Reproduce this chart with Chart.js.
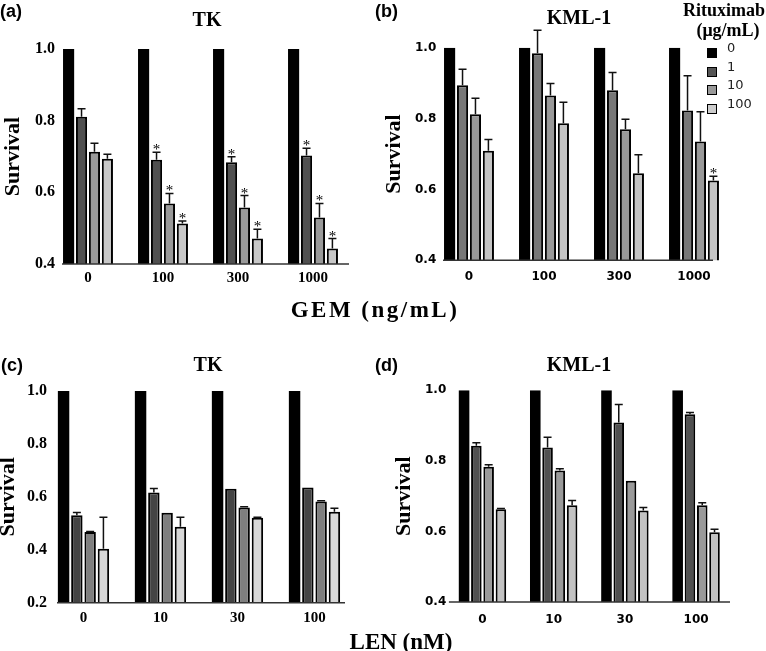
<!DOCTYPE html>
<html>
<head>
<meta charset="utf-8">
<script src="https://cdn.jsdelivr.net/npm/chart.js@4.4.0/dist/chart.umd.min.js"></script>
<style>
  body { margin: 0; background: #fff; }
  #page { position: relative; width: 766px; height: 651px; overflow: hidden; background: #fff; }
  canvas { position: absolute; }
  .t { position: absolute; white-space: nowrap; color: #000; line-height: 1; }
  .mid { transform: translate(-50%, -50%); }
  .serif { font-family: "Liberation Serif", "Times New Roman", serif; font-weight: bold; }
  .letter { font-family: "Liberation Sans", Arial, sans-serif; font-weight: bold; font-size: 18px; }
  .leg { position: absolute; left: 707px; font-family: "DejaVu Sans", sans-serif; font-size: 13px; color: #222; }
  .leg span.box { position: absolute; left: 0; width: 8px; height: 8px; border: 1.5px solid #000; }
  .leg span.lab { position: absolute; left: 20px; top: -8px; }
</style>
</head>
<body>
<div id="page">
  <canvas id="grafikA" width="380" height="300" style="left:0;top:0"></canvas>
  <canvas id="grafikB" width="386" height="300" style="left:380px;top:0"></canvas>
  <canvas id="grafikC" width="380" height="321" style="left:0;top:330px"></canvas>
  <canvas id="grafikD" width="386" height="321" style="left:380px;top:330px"></canvas>

  <div class="t letter" style="left:0;top:2px">(a)</div>
  <div class="t letter" style="left:375px;top:2px">(b)</div>
  <div class="t letter" style="left:1px;top:356px">(c)</div>
  <div class="t letter" style="left:375px;top:356px">(d)</div>

  <div class="t serif mid" style="left:207px;top:19px;font-size:20px">TK</div>
  <div class="t serif mid" style="left:579px;top:17px;font-size:20px">KML-1</div>
  <div class="t serif mid" style="left:208px;top:364px;font-size:20px">TK</div>
  <div class="t serif mid" style="left:579px;top:364px;font-size:20px">KML-1</div>

  <div class="t serif mid" style="left:375px;top:309px;font-size:23px;letter-spacing:2.5px">GEM (ng/mL)</div>
  <div class="t serif mid" style="left:401px;top:641px;font-size:23px">LEN (nM)</div>

  <div class="t serif mid" style="left:724px;top:10px;font-size:18px">Rituximab</div>
  <div class="t serif mid" style="left:728px;top:30px;font-size:18px">(μg/mL)</div>
  <div id="legenda"></div>
</div>

<script>
// Kategori sumbu x dan dosis rituximab
const gemLabels = ['0', '100', '300', '1000'];
const lenLabels = ['0', '10', '30', '100'];
const ritLabels = ['0', '1', '10', '100'];

// (a) TK + GEM : nilai survival per dosis rituximab (0, 1, 10, 100 ug/mL)
const tkGemR0 = [1, 1, 1, 1];
const tkGemR1 = [0.811, 0.691, 0.684, 0.703];
const tkGemR10 = [0.713, 0.569, 0.558, 0.530];
const tkGemR100 = [0.694, 0.513, 0.471, 0.443];
const tkGemErr1 = [0.022, 0.021, 0.015, 0.020];
const tkGemErr10 = [0.024, 0.028, 0.033, 0.039];
const tkGemErr100 = [0.012, 0.007, 0.026, 0.028];
const tkGemSig1 = [0, 1, 1, 1];
const tkGemSig10 = [0, 1, 1, 1];
const tkGemSig100 = [0, 1, 1, 1];

// (b) KML-1 + GEM
const kmlGemR0 = [1, 1, 1, 1];
const kmlGemR1 = [0.894, 0.984, 0.880, 0.823];
const kmlGemR10 = [0.812, 0.865, 0.770, 0.735];
const kmlGemR100 = [0.709, 0.787, 0.646, 0.625];
const kmlGemErr1 = [0.045, 0.065, 0.050, 0.098];
const kmlGemErr10 = [0.045, 0.034, 0.028, 0.084];
const kmlGemErr100 = [0.032, 0.059, 0.052, 0.012];
const kmlGemSig100 = [0, 0, 0, 1];

// (c) TK + LEN
const tkLenR0 = [1, 1, 1, 1];
const tkLenR1 = [0.530, 0.616, 0.631, 0.635];
const tkLenR10 = [0.467, 0.540, 0.560, 0.582];
const tkLenR100 = [0.404, 0.487, 0.521, 0.544];
const tkLenErr1 = [0.011, 0.016, 0, 0];
const tkLenErr10 = [0.002, 0, 0.003, 0.003];
const tkLenErr100 = [0.119, 0.036, 0.002, 0.013];

// (d) KML-1 + LEN
const kmlLenR0 = [1, 1, 1, 1];
const kmlLenR1 = [0.843, 0.838, 0.909, 0.932];
const kmlLenR10 = [0.783, 0.773, 0.744, 0.674];
const kmlLenR100 = [0.663, 0.674, 0.659, 0.598];
const kmlLenErr1 = [0.008, 0.029, 0.051, 0.005];
const kmlLenErr10 = [0.006, 0.005, 0, 0.007];
const kmlLenErr100 = [0.002, 0.014, 0.009, 0.008];

const noErr = [0, 0, 0, 0];
const noSig = [0, 0, 0, 0];

// Warna tiap panel (hitam, abu tua, abu, abu muda)
const warnaA = ['#000000', '#505050', '#9a9a9a', '#c8c8c8'];
const warnaB = ['#000000', '#777777', '#999999', '#c4c4c4'];
const warnaC = ['#000000', '#444444', '#7f7f7f', '#d8d8d8'];
const warnaD = ['#000000', '#505050', '#9a9a9a', '#c2c2c2'];
const warnaLegenda = ['#000000', '#555555', '#999999', '#cccccc'];

// Plugin error bar (hanya ke atas), tanda bintang, dan garis sumbu x
const errorBars = {
    id: 'errorBars',
    afterDatasetsDraw(chart, args, opts) {
        const ctx = chart.ctx;
        const yScale = chart.scales.y;
        const area = chart.chartArea;
        ctx.save();
        chart.data.datasets.forEach((ds, di) => {
            const meta = chart.getDatasetMeta(di);
            meta.data.forEach((bar, j) => {
                const e = ds.errUp[j];
                const top = yScale.getPixelForValue(ds.data[j] + e);
                if (e > 0) {
                    ctx.strokeStyle = '#111';
                    ctx.lineWidth = 1.5;
                    ctx.beginPath();
                    ctx.moveTo(bar.x, bar.y);
                    ctx.lineTo(bar.x, top);
                    ctx.moveTo(bar.x - 4, top);
                    ctx.lineTo(bar.x + 4, top);
                    ctx.stroke();
                }
                if (ds.sig[j]) {
                    ctx.fillStyle = '#000';
                    ctx.font = '15px "Liberation Serif"';
                    ctx.textAlign = 'center';
                    ctx.textBaseline = 'alphabetic';
                    ctx.fillText('*', bar.x, top + 2);
                }
            });
        });
        // garis sumbu x
        ctx.strokeStyle = '#333';
        ctx.lineWidth = 1.5;
        ctx.beginPath();
        ctx.moveTo(area.left + opts.dari, area.bottom);
        ctx.lineTo(area.right - opts.sampai, area.bottom);
        ctx.stroke();
        ctx.restore();
    }
};

function buatPanel(id, cfg) {
    return new Chart(document.getElementById(id).getContext('2d'), {
        type: 'bar',
        data: {
            labels: cfg.labels,
            datasets: cfg.values.map((v, i) => ({
                label: ritLabels[i],
                data: v,
                errUp: cfg.errors[i],
                sig: cfg.sig[i],
                backgroundColor: cfg.warna[i],
                borderColor: '#000',
                borderWidth: i === 0 ? 0 : 2,
                categoryPercentage: 0.69,
                barPercentage: 0.86
            }))
        },
        options: {
            responsive: false,
            animation: false,
            layout: { padding: cfg.pad },
            plugins: {
                legend: { display: false },
                tooltip: { enabled: false },
                errorBars: cfg.sumbu
            },
            scales: {
                x: {
                    grid: { display: false, drawTicks: false },
                    border: { display: false },
                    ticks: { color: '#000', font: cfg.xFont, padding: cfg.xPad },
                    afterFit: function(s) { s.height = 30; }
                },
                y: {
                    min: cfg.yMin,
                    max: 1,
                    grid: { display: false, drawTicks: false },
                    border: { display: false },
                    ticks: {
                        stepSize: 0.2,
                        color: '#000',
                        font: cfg.yFont,
                        mirror: true,          // supaya label tidak terpotong
                        crossAlign: 'near',
                        padding: cfg.yPad,
                        callback: function(value) {
                            return value.toFixed(1);
                        }
                    },
                    title: {
                        display: true,
                        text: 'Survival',
                        color: '#000',
                        font: { family: 'Liberation Serif', weight: 'bold', size: 22 },
                        padding: { top: cfg.titlePad, bottom: 0 }
                    },
                    afterFit: function(s) { s.width = cfg.yW; }
                }
            }
        },
        plugins: [errorBars]
    });
}

const serifTick = { family: 'Liberation Serif', weight: 'bold', size: 16 };
const serifTickX = { family: 'Liberation Serif', weight: 'bold', size: 15 };
const sansTick = { family: 'DejaVu Sans', weight: 'bold', size: 12 };

// (a)
let chartA = buatPanel('grafikA', {
    labels: gemLabels,
    values: [tkGemR0, tkGemR1, tkGemR10, tkGemR100],
    errors: [noErr, tkGemErr1, tkGemErr10, tkGemErr100],
    sig: [noSig, tkGemSig1, tkGemSig10, tkGemSig100],
    warna: warnaA,
    yMin: 0.4,
    pad: { left: 0, top: 49, right: 29.5, bottom: 6 },
    yW: 50.5, yPad: -15.5, titlePad: 0,
    xFont: serifTickX, yFont: serifTick, xPad: 5,
    sumbu: { dari: 11.5, sampai: 1.5 }
});

// (b)
let chartB = buatPanel('grafikB', {
    labels: gemLabels,
    values: [kmlGemR0, kmlGemR1, kmlGemR10, kmlGemR100],
    errors: [noErr, kmlGemErr1, kmlGemErr10, kmlGemErr100],
    sig: [noSig, noSig, noSig, kmlGemSig100],
    warna: warnaB,
    yMin: 0.4,
    pad: { left: 0, top: 47.7, right: 34.5, bottom: 9.7 },
    yW: 51.5, yPad: -16.5, titlePad: 1,
    xFont: sansTick, yFont: sansTick, xPad: 9.5,
    sumbu: { dari: 11.5, sampai: 18.5 }
});

// (c)
let chartC = buatPanel('grafikC', {
    labels: lenLabels,
    values: [tkLenR0, tkLenR1, tkLenR10, tkLenR100],
    errors: [noErr, tkLenErr1, tkLenErr10, tkLenErr100],
    sig: [noSig, noSig, noSig, noSig],
    warna: warnaC,
    yMin: 0.2,
    pad: { left: 0, top: 61, right: 27, bottom: 18.3 },
    yW: 45, yPad: -18, titlePad: -5,
    xFont: serifTickX, yFont: serifTick, xPad: 6,
    sumbu: { dari: 12, sampai: 8 }
});

// (d)
let chartD = buatPanel('grafikD', {
    labels: lenLabels,
    values: [kmlLenR0, kmlLenR1, kmlLenR10, kmlLenR100],
    errors: [noErr, kmlLenErr1, kmlLenErr10, kmlLenErr100],
    sig: [noSig, noSig, noSig, noSig],
    warna: warnaD,
    yMin: 0.4,
    pad: { left: 0, top: 60.3, right: 34.3, bottom: 19 },
    yW: 66.9, yPad: -21.9, titlePad: 11,
    xFont: sansTick, yFont: sansTick, xPad: 11,
    sumbu: { dari: 2, sampai: 1.7 }
});

// Legenda rituximab (dibuat dari label dan warna)
const legenda = document.getElementById('legenda');
ritLabels.forEach((lab, i) => {
    const item = document.createElement('div');
    item.className = 'leg';
    item.style.top = (48 + i * 18.5) + 'px';
    item.innerHTML = '<span class="box" style="background:' + warnaLegenda[i] + '"></span><span class="lab">' + lab + '</span>';
    legenda.appendChild(item);
});
</script>
</body>
</html>
